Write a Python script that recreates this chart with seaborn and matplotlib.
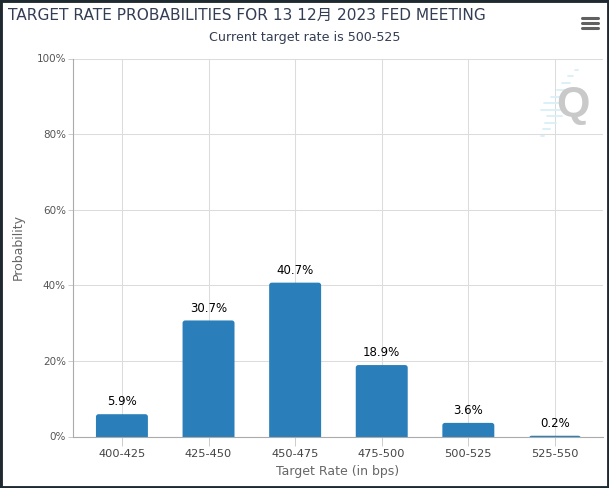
import matplotlib
matplotlib.use("Agg")
import matplotlib.pyplot as plt
import pandas as pd
import seaborn as sns
from matplotlib.patches import FancyBboxPatch, Rectangle

categories = ["400-425", "425-450", "450-475", "475-500", "500-525", "525-550"]
probabilities = [5.9, 30.7, 40.7, 18.9, 3.6, 0.2]
y_ticks = [0, 20, 40, 60, 80, 100]

# logo streaks: y pixel, x start, x end
streak_rows = [70, 76, 83, 90, 97, 103, 110, 116, 123, 129, 136]
streak_from = [575, 568, 562, 557, 551, 544, 541, 547, 545, 543, 541]
streak_to = [578, 573, 570, 566, 563, 560, 560, 562, 556, 550, 544]

W, H = 609, 488
DPI = 100

sns.set_theme(style="whitegrid")
plt.rcParams["font.family"] = ["DejaVu Sans", "Noto Sans CJK SC"]

fig = plt.figure(figsize=(W / DPI, H / DPI), dpi=DPI, facecolor="white")

# dark frame of the screenshot
fig.add_artist(Rectangle((0, 0), 1, 1, transform=fig.transFigure, fill=False,
                         edgecolor="#1f2a30", linewidth=3.5))

L, R, T, B = 73, 603, 58.5, 436.5
ax = fig.add_axes([L / W, 1 - B / H, (R - L) / W, (B - T) / H])

df = pd.DataFrame({"rate": categories, "prob": probabilities})
sns.barplot(data=df, x="rate", y="prob", color="#2a7fba", saturation=1,
            width=0.6, ax=ax, zorder=2)

ax.set_xlim(-0.565, 5.555)
ax.set_ylim(0, 100)

# swap seaborn's square bars for ones with rounded top corners
aspect = (100 / (B - T)) / (6.12 / (R - L))
for bar in list(ax.patches):
    bar.set_visible(False)
    ax.add_patch(FancyBboxPatch(
        (bar.get_x(), -1), bar.get_width(), bar.get_height() + 1,
        boxstyle="round,pad=0,rounding_size=0.03", mutation_aspect=aspect,
        facecolor="#2a7fba", edgecolor="none", zorder=2))

for i, val in enumerate(probabilities):
    ax.annotate(f"{val}%", (i, val), xytext=(0, 8.8), textcoords="offset points",
                ha="center", va="center", fontsize=8.5, color="black", zorder=4)

ax.set_yticks(y_ticks)
ax.set_yticklabels([f"{t}%" for t in y_ticks])
ax.grid(True, color="#dcdcdc", linewidth=0.75)
ax.set_axisbelow(True)

for side in ["top", "right"]:
    ax.spines[side].set_visible(False)
for side in ["left", "bottom"]:
    ax.spines[side].set_visible(True)
    ax.spines[side].set_color("#ababab")
    ax.spines[side].set_linewidth(0.8)

ax.tick_params(axis="x", length=6.5, width=0.7, color="#cccccc", labelsize=8.2,
               labelcolor="#444444", pad=2.5, bottom=True)
ax.tick_params(axis="y", length=3.6, width=0.7, color="#cccccc", labelsize=7.5,
               labelcolor="#555555", pad=1.5, left=True)

ax.set_xlabel("Target Rate (in bps)", fontsize=9.0, color="#666666")
ax.set_ylabel("Probability", fontsize=9.0, color="#666666")
ax.xaxis.set_label_coords((338 - L) / (R - L), -(471 - B) / (B - T))
ax.yaxis.set_label_coords((18 - L) / (R - L), (B - 247) / (B - T))
ax.xaxis.label.set_va("center")
ax.yaxis.label.set_va("center")

fig.text(8 / W, 1 - 15 / H, "TARGET RATE PROBABILITIES FOR 13 12月 2023 FED MEETING",
         fontsize=11.08, color="#333d54", ha="left", va="center")
fig.text(305 / W, 1 - 38 / H, "Current target rate is 500-525",
         fontsize=9.1, color="#333d54", ha="center", va="center")

# menu icon
for y in [17.5, 22.8, 28]:
    fig.add_artist(plt.Line2D([582 / W, 598 / W], [1 - y / H, 1 - y / H],
                              color="#606060", linewidth=2.2,
                              solid_capstyle="round"))

# logo
for y, x0, x1 in zip(streak_rows, streak_from, streak_to):
    fig.add_artist(plt.Line2D([x0 / W, x1 / W], [1 - y / H, 1 - y / H],
                              color="#d8f0f7", linewidth=1.3))
fig.text(573 / W, 1 - 105 / H, "Q", fontsize=31, fontweight="bold",
         family="Liberation Sans", color="#c9c9c9", ha="center", va="center")

fig.savefig("out.png", dpi=DPI, facecolor=fig.get_facecolor())
